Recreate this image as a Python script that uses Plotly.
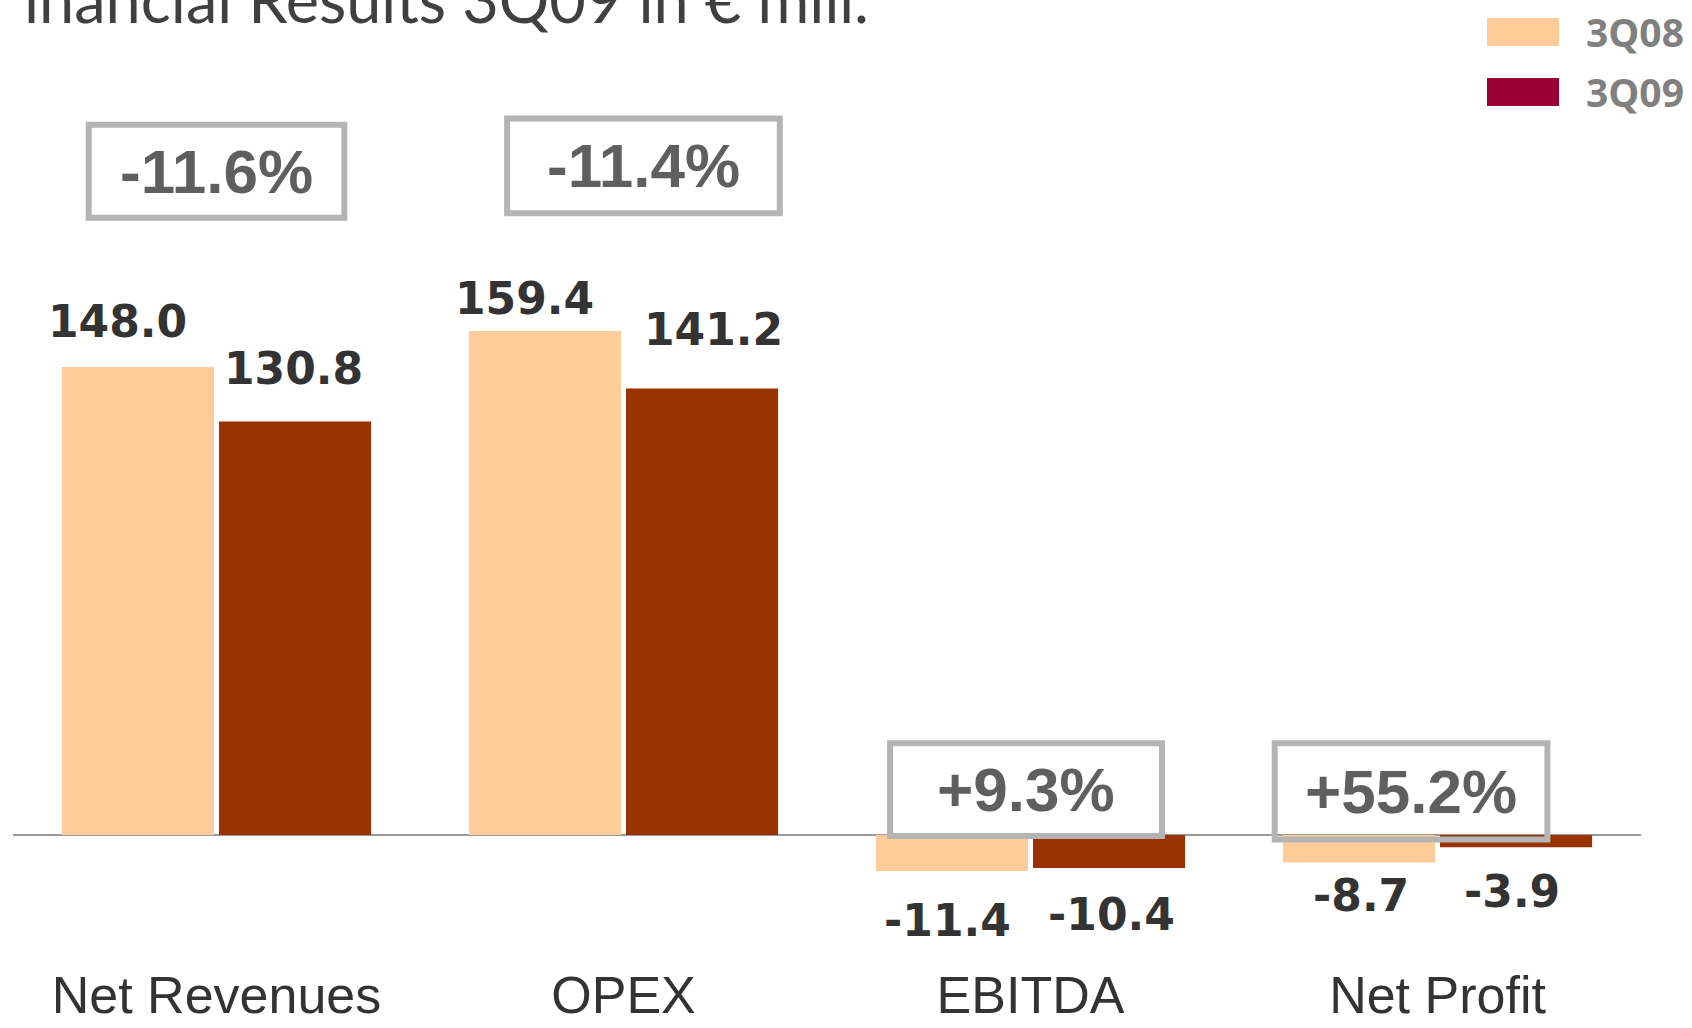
import plotly.graph_objects as go

# Quarterly results, € millions
categories = ["Net Revenues", "OPEX", "EBITDA", "Net Profit"]
series_names = ["3Q08", "3Q09"]
values_3q08 = [148.0, 159.4, -11.4, -8.7]
values_3q09 = [130.8, 141.2, -10.4, -3.9]
change_labels = ["-11.6%", "-11.4%", "+9.3%", "+55.2%"]
title_text = "inancial Results 3Q09 in € mill."

# Styling
bar_colors = ["#FFCC99", "#993300"]
legend_colors = ["#FFCC99", "#990033"]
label_color = "#333333"
box_color = "#B4B4B4"
pct_color = "#5F5F5F"

# Pixel offsets (dx, dy) for the value labels of each series
label_offsets_3q08 = [(-20, 46), (-20, 32), (-4, -49), (2, -33)]
label_offsets_3q09 = [(-2, 53), (11, 59), (2, -47), (-4, -44)]

# Change boxes: (x0, x1, y0, y1) in axis units
change_boxes = [
    (-0.314, 0.314, 195.2, 224.6),
    (-0.286, 0.384, 196.6, 226.6),
    (-0.345, 0.323, -0.3, 29.0),
    (-0.400, 0.270, -1.4, 29.0),
]

W, H = 1692, 1028
ML, MR, MT, MB = 13, 51, 0, 70
PW, PH = W - ML - MR, H - MT - MB

fig = go.Figure()
for name, vals, col in zip(series_names, [values_3q08, values_3q09], bar_colors):
    fig.add_trace(go.Bar(
        x=categories, y=vals, name=name,
        marker=dict(color=col, line=dict(width=0)),
        showlegend=False, hoverinfo="x+y+name",
    ))

slot_half = 0.193
annotations = []
for i in range(len(categories)):
    for vals, offs, sign in [(values_3q08, label_offsets_3q08, -1), (values_3q09, label_offsets_3q09, 1)]:
        dx, dy = offs[i]
        annotations.append(dict(
            x=i + sign * slot_half, y=vals[i], xref="x", yref="y",
            text=f"{vals[i]:.1f}", showarrow=False,
            xshift=dx, yshift=dy, xanchor="center", yanchor="middle",
            font=dict(family="DejaVu Sans", size=44, color=label_color, weight="bold"),
        ))

shapes = []
for i, (x0, x1, y0, y1) in enumerate(change_boxes):
    shapes.append(dict(
        type="rect", xref="x", yref="y",
        x0=i + x0, x1=i + x1, y0=y0, y1=y1,
        line=dict(color=box_color, width=6), fillcolor="rgba(255,255,255,0)",
        layer="above",
    ))
    annotations.append(dict(
        x=i + (x0 + x1) / 2, y=(y0 + y1) / 2, xref="x", yref="y",
        text=f"<b>{change_labels[i]}</b>", showarrow=False, xanchor="center", yanchor="middle",
        font=dict(family="Liberation Sans", size=62, color=pct_color),
    ))

# Hand-built legend at top right
legend_rows = [(18, 46, 32), (78, 106, 91)]
for (ytop, ybot, ytext), name, col in zip(legend_rows, series_names, legend_colors):
    shapes.append(dict(
        type="rect", xref="paper", yref="paper",
        x0=(1487 - ML) / PW, x1=(1559 - ML) / PW,
        y0=1 - ybot / PH, y1=1 - ytop / PH,
        line=dict(width=0), fillcolor=col,
    ))
    annotations.append(dict(
        x=(1584 - ML) / PW, y=1 - ytext / PH, xref="paper", yref="paper",
        text=name, showarrow=False, xanchor="left", yanchor="middle",
        font=dict(family="Open Sans", size=39, color="#808080", weight="bold"),
    ))

# Title, partly running off the top edge
annotations.append(dict(
    x=(22 - ML) / PW, y=1 + 2 / PH, xref="paper", yref="paper",
    text=title_text, showarrow=False, xanchor="left", yanchor="middle",
    font=dict(family="Lato", size=63, color="#404040"),
))

# y range keeps zero at the same height: 3.162 px per unit, zero at y=835 px
px_per_unit = 3.162
zero_px = 835
y_top = (zero_px - MT) / px_per_unit
y_bottom = -(H - MB - zero_px) / px_per_unit

fig.update_layout(
    width=W, height=H,
    margin=dict(l=ML, r=MR, t=MT, b=MB),
    paper_bgcolor="white", plot_bgcolor="white",
    barmode="group", bargap=0.228, bargroupgap=0.032,
    shapes=shapes, annotations=annotations,
    xaxis=dict(
        showgrid=False, showline=False, zeroline=False, ticks="",
        range=[-0.5, 3.5], automargin=False,
        tickfont=dict(family="Liberation Sans", size=52, color=label_color),
        ticklabelstandoff=2,
    ),
    yaxis=dict(
        range=[y_bottom, y_top], showgrid=False, showticklabels=False, ticks="",
        zeroline=True, zerolinecolor="#999999", zerolinewidth=2, showline=False,
        automargin=False,
    ),
)

fig.write_html("out.html")
